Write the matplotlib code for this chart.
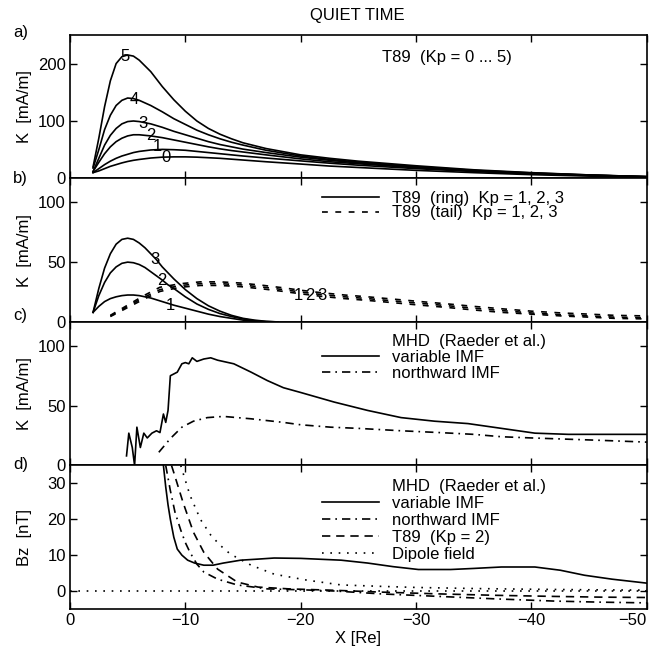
import matplotlib
matplotlib.use("Agg")
import matplotlib.pyplot as plt
from matplotlib.lines import Line2D

plt.rcParams['font.family'] = ['Liberation Sans', 'DejaVu Sans']
plt.rcParams['font.size'] = 12

# ---------------- data ----------------
# panel a: T89 total current, Kp = 0..5
a_x = [-2, -2.5, -3, -3.5, -4, -4.5, -5, -5.5, -6, -7, -8, -9, -10, -11, -12, -13, -14, -15,
       -17, -20, -22.5, -25, -30, -35, -40, -45, -50]
a_k5 = [20, 70, 125, 170, 200, 212, 215, 213, 206, 186, 160, 137, 117, 100, 87, 77, 69, 62,
        52, 41, 35, 30, 22, 15, 10, 6, 3]
a_k4 = [18, 50, 85, 110, 127, 136, 140, 139, 136, 127, 116, 104, 94, 84, 76, 69, 63, 58,
        49, 39, 33, 28.5, 20.5, 14, 9.5, 6, 3]
a_k3 = [12, 35, 58, 75, 87, 95, 99, 100, 99, 95, 89, 82, 76, 70, 64, 59, 55, 51,
        45, 37, 31.5, 27, 19.5, 13.5, 9, 5.5, 3]
a_k2 = [12, 28, 43, 55, 64, 70, 74, 76, 76, 74, 71, 67, 63, 59, 55, 51.5, 48.5, 46,
        41, 34, 29, 25.5, 18.5, 13, 8.5, 5.5, 3]
a_k1 = [10, 17, 24, 30, 35, 39, 42, 45, 47, 49.5, 50.5, 50, 49, 47, 45, 43, 41, 39,
        35.5, 30.5, 26.5, 23, 17, 12, 8, 5, 2.5]
a_k0 = [10, 13, 17, 21, 24, 27, 29.5, 31.5, 33, 35.5, 37, 37.5, 37.5, 37, 36, 35, 33.5, 32,
        29, 25, 21.5, 19, 14, 10, 6.5, 4, 2]
a_curves = [a_k0, a_k1, a_k2, a_k3, a_k4, a_k5]
a_labels = ['0', '1', '2', '3', '4', '5']
a_label_x = [-8.3, -7.6, -7.0, -6.3, -5.6, -4.8]
a_label_y = [36, 55, 75, 96, 137, 212]

# panel b: T89 ring and tail currents, Kp = 1, 2, 3
ring_x = [-2, -2.5, -3, -3.5, -4, -4.5, -5, -5.5, -6, -6.5, -7, -7.5, -8, -8.5, -9, -10,
          -11, -12, -13, -14, -15, -16, -17, -18]
ring_k3 = [8, 28, 45, 57, 65, 69, 70, 69, 66, 62, 57, 52, 46, 41, 36, 27, 19.5, 13.5, 9,
           5.5, 3, 1.5, 0.5, 0]
ring_k2 = [8, 22, 33, 41, 46, 49, 50, 49.5, 48, 45.5, 42, 38.5, 35, 31, 28, 21, 15, 10.5, 7,
           4.5, 2.5, 1, 0.3, 0]
ring_k1 = [8, 13, 17, 19.5, 21, 22, 22.5, 22.5, 22, 21, 20, 18.5, 17, 15.5, 14, 11.5, 9, 6.5,
           4.5, 3, 1.5, 0.5, 0, 0]
tail_x = [-3.5, -4.9, -6.4, -7.8, -9.6, -11.3, -13, -14.8, -16.8, -18.5, -20, -21.7, -23.8,
          -25.8, -28.1, -30.4, -32.8, -35, -37.4, -40, -42.6, -45, -47.2, -50]
tail_k3 = [5.5, 13.5, 22, 29, 32, 33.5, 33.5, 32.5, 30.5, 28.5, 26.5, 24.5, 22.5, 21, 19, 17,
           15, 13, 11, 9, 7.5, 6.5, 5.5, 5]
tail_k2 = [5, 12.5, 20.5, 27, 30.5, 32, 32, 31, 29, 27, 25, 23, 21, 19.5, 17.5, 15.5, 13.5,
           11.5, 9.5, 7.5, 6, 5, 4, 3.5]
tail_k1 = [4.5, 11.5, 19, 25.5, 29, 30.5, 30.5, 29.5, 27.5, 25.5, 23.5, 21.5, 19.5, 18, 16,
           14, 12, 10, 8, 6.5, 5, 4, 3, 2.5]
b_labels = ['3', '2', '1', '1', '2', '3']
b_label_x = [-7.4, -8.0, -8.7, -19.8, -20.8, -21.8]
b_label_y = [52, 35, 14, 22, 22, 22]

# panel c: MHD (Raeder et al.)
c_var_x = [-4.9, -5.1, -5.4, -5.6, -5.8, -6.1, -6.4, -6.7, -7.1, -7.5, -7.8, -8.1, -8.3, -8.5,
           -8.7, -9.3, -9.7, -10, -10.3, -10.6, -11, -11.6, -12.2, -12.8, -14.2, -15.7, -17.1,
           -18.5, -20, -22.9, -25.8, -28.7, -31.6, -34.5, -37.4, -40.3, -43.2, -46.1, -50]
c_var_k = [8, 27, 15, 0, 32, 15, 27, 23, 27, 29, 27.5, 43, 36, 46, 75, 78, 85, 86, 85, 90, 87,
           89, 90, 88, 85, 78, 71, 65, 61, 53, 46, 40, 37, 35, 31, 27, 26, 26, 26]
c_north_x = [-7.7, -8.7, -9.7, -10.7, -11.9, -13.3, -15.7, -18.5, -20, -22.6, -25, -28.7, -32,
             -35, -37.4, -40, -43, -46, -50]
c_north_k = [11, 22.5, 32, 37, 40, 41, 39, 36, 34, 32, 31, 29, 27.5, 26, 24, 23, 22, 21, 19.5]

# panel d: Bz
d_var_x = [-8.1, -8.3, -8.5, -8.7, -9, -9.3, -9.7, -10.2, -10.8, -11.6, -12.4, -13.3, -14.8,
           -16.3, -17.7, -20, -23.5, -25.8, -28, -30.2, -33, -35, -37.4, -40.3, -42.5, -44.6,
           -47, -50]
d_var_bz = [35, 29, 24, 20, 15, 11.7, 10, 8.6, 7.8, 7.2, 7.2, 7.8, 8.6, 8.9, 9.2, 9.1, 8.6,
            7.8, 6.8, 6, 6, 6.3, 6.7, 6.7, 5.8, 4.4, 3.3, 2.2]
d_north_x = [-8.3, -8.7, -9.1, -9.6, -10, -10.4, -11, -11.6, -12.8, -14.5, -17.1, -20.5, -23,
             -27, -32, -37, -42, -46, -50]
d_north_bz = [35, 28, 22, 17, 13.5, 10.8, 7.5, 5.3, 3.3, 1.7, 0.6, 0.3, 0, -0.8, -1.5, -2.2,
              -2.8, -3.1, -3.3]
d_t89_x = [-8.8, -9, -9.8, -10.7, -11.6, -12.8, -14.5, -16.3, -19, -23, -27, -32, -37, -42,
           -46, -50]
d_t89_bz = [35, 33, 24.7, 16.4, 10.8, 6.1, 2.5, 1.1, 0.6, 0.2, -0.3, -0.8, -1.2, -1.5, -1.7,
            -1.8]
d_dip_x = [-9.6, -10.4, -11.3, -12.2, -13, -13.9, -15.7, -17.7, -20.6, -23.5, -27, -30, -35,
           -40, -45, -50]
d_dip_bz = [35, 26.7, 20, 15.6, 12.8, 10.3, 7.2, 4.7, 3, 1.7, 1.3, 1.0, 0.7, 0.5, 0.35, 0.25]

x_ticks = [0, -10, -20, -30, -40, -50]
x_ticklabels = ['0', '\u221210', '\u221220', '\u221230', '\u221240', '\u221250']

# ---------------- figure ----------------
fig, axes = plt.subplots(4, 1, figsize=(6.54, 6.58), dpi=100, sharex=True)
fig.subplots_adjust(left=0.107, right=0.989, top=0.947, bottom=0.0745, hspace=0)
axA, axB, axC, axD = axes

LW = 1.2
DASH_T = (3.5, 4.5)
DASH_D = (5, 3.5)
DASHDOT = (5, 3, 1, 3)
DOT = (1, 4)

for ax in axes:
    ax.set_xlim(0, -50)
    ax.set_xticks(x_ticks)
    ax.tick_params(direction='in', top=True, right=True, length=5, width=1,
                   labelsize=12, pad=3)
    for s in ax.spines.values():
        s.set_linewidth(1.2)

leg_kw = dict(loc='upper left', frameon=False, borderpad=0, borderaxespad=0,
              handlelength=3.4, handletextpad=0.8, fontsize=12)

# panel a
for k in a_curves:
    axA.plot(a_x, k, color='black', lw=LW)
for t, x, y in zip(a_labels, a_label_x, a_label_y):
    axA.text(x, y, t, fontsize=12, ha='center', va='center')
axA.set_ylim(0, 250)
axA.set_yticks([0, 100, 200])
axA.set_ylabel('K  [mA/m]')
axA.text(0.541, 0.84, 'T89  (Kp = 0 ... 5)', transform=axA.transAxes,
         ha='left', va='center', fontsize=12)

# panel b
hr = None
for k in [ring_k1, ring_k2, ring_k3]:
    hr, = axB.plot(ring_x, k, color='black', lw=LW)
ht = None
for k in [tail_k1, tail_k2, tail_k3]:
    ht, = axB.plot(tail_x, k, color='black', lw=LW, dashes=DASH_T)
for t, x, y in zip(b_labels, b_label_x, b_label_y):
    axB.text(x, y, t, fontsize=12, ha='center', va='center')
axB.set_ylim(0, 120)
axB.set_yticks([0, 50, 100])
axB.set_ylabel('K  [mA/m]')
axB.legend([hr, ht], ['T89  (ring)  Kp = 1, 2, 3', 'T89  (tail)  Kp = 1, 2, 3'],
           bbox_to_anchor=(0.437, 0.91), labelspacing=-0.05, **leg_kw)

# panel c
hv, = axC.plot(c_var_x, c_var_k, color='black', lw=LW)
hn, = axC.plot(c_north_x, c_north_k, color='black', lw=LW, dashes=DASHDOT)
axC.set_ylim(0, 120)
axC.set_yticks([0, 50, 100])
axC.set_ylabel('K  [mA/m]')
blank = Line2D([], [], linestyle='none')
axC.legend([blank, hv, hn], ['MHD  (Raeder et al.)', 'variable IMF', 'northward IMF'],
           bbox_to_anchor=(0.437, 0.915), labelspacing=0.05, **leg_kw)

# panel d
axD.axhline(0, color='black', lw=LW, dashes=DOT)
hv2, = axD.plot(d_var_x, d_var_bz, color='black', lw=LW)
hn2, = axD.plot(d_north_x, d_north_bz, color='black', lw=LW, dashes=DASHDOT)
ht2, = axD.plot(d_t89_x, d_t89_bz, color='black', lw=LW, dashes=DASH_D)
hd2, = axD.plot(d_dip_x, d_dip_bz, color='black', lw=LW, dashes=DOT)
axD.set_ylim(-5, 35)
axD.set_yticks([0, 10, 20, 30])
axD.set_ylabel('Bz  [nT]')
axD.legend([blank, hv2, hn2, ht2, hd2],
           ['MHD  (Raeder et al.)', 'variable IMF', 'northward IMF', 'T89  (Kp = 2)',
            'Dipole field'],
           bbox_to_anchor=(0.437, 0.905), labelspacing=0.12, **leg_kw)
axD.set_xticklabels(x_ticklabels)
tl = axD.get_xticklabels()
tl[-1].set_ha('right')
axD.set_xlabel('X [Re]', labelpad=2)

for ax in axes:
    ax.yaxis.set_label_coords(-0.066, 0.5)

# titles / panel letters
fig.text(0.547, 0.977, 'QUIET TIME', ha='center', va='center', fontsize=12)
for lab, yp in zip(['a)', 'b)', 'c)', 'd)'], [33, 178, 315, 465]):
    fig.text(0.02, 1 - yp / 658, lab, ha='left', va='center', fontsize=12)

fig.savefig('out.png', dpi=100)
